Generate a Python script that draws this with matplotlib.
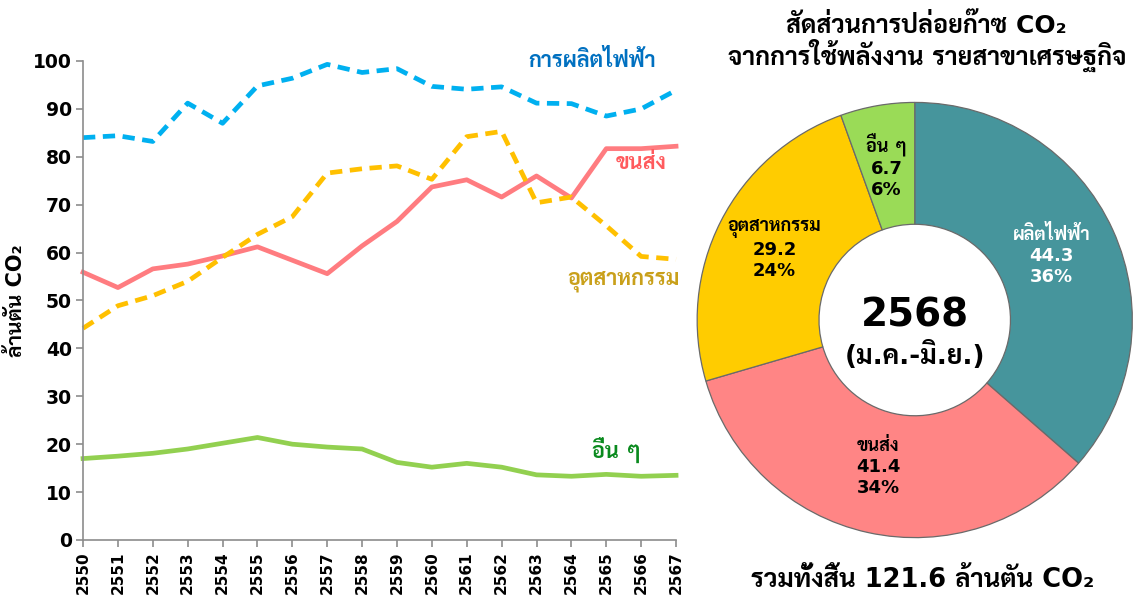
import matplotlib
matplotlib.use("Agg")
import matplotlib.pyplot as plt
from matplotlib import font_manager as fm

# Thai-capable family that has a bold face; Latin/digits stay in DejaVu Sans
bold_names = {f.name for f in fm.fontManager.ttflist
              if (f.weight if isinstance(f.weight, int) else 400) >= 700 or f.weight == "bold"}
THAI = next((n for n in ["Noto Sans Thai Looped", "Noto Sans Thai", "Sarabun", "Loma"]
             if n in bold_names), "DejaVu Sans")
FAM = ["DejaVu Sans", THAI]
plt.rcParams["font.family"] = FAM
plt.rcParams["font.weight"] = "bold"

# ---------------------------------------------------------------- data
years = list(range(2550, 2568))
power = [84.0, 84.4, 83.2, 91.2, 87.0, 94.8, 96.4, 99.3, 97.6, 98.4,
         94.7, 94.1, 94.6, 91.2, 91.1, 88.5, 90.0, 93.9]
transport = [55.9, 52.7, 56.6, 57.6, 59.3, 61.2, 58.4, 55.6, 61.4, 66.5,
             73.7, 75.2, 71.6, 76.0, 71.4, 81.7, 81.7, 82.2]
industry = [44.2, 48.9, 51.0, 54.0, 59.0, 63.8, 67.5, 76.6, 77.5, 78.1,
            75.3, 84.2, 85.3, 70.4, 71.6, 65.6, 59.2, 58.6]
others = [17.0, 17.5, 18.1, 19.0, 20.2, 21.4, 20.0, 19.4, 19.0, 16.2,
          15.2, 16.0, 15.2, 13.6, 13.3, 13.7, 13.3, 13.5]

pie_names = ["ผลิตไฟฟ้า", "ขนส่ง", "อุตสาหกรรม", "อื่น ๆ"]
pie_vals = [44.3, 41.4, 29.2, 6.7]
pie_pct = ["36%", "34%", "24%", "6%"]
total = 121.6

# ---------------------------------------------------------------- style
C_POWER, C_TRANS, C_IND, C_OTH = "#00B0F0", "#FF7C80", "#FFC000", "#92D050"
PIE_COLORS = ["#46959C", "#FF8585", "#FFCC00", "#9ADB57"]
GREY = "#8c8c8c"

fig = plt.figure(figsize=(11.47, 5.98), dpi=100)

# ---------------------------------------------------------------- line chart
ax = fig.add_axes([0.0724, 0.097, 0.517, 0.801])
lw = 3.4
ax.plot(years, power, color=C_POWER, lw=lw, dashes=(2.6, 1.6), clip_on=False)
ax.plot(years, transport, color=C_TRANS, lw=lw, clip_on=False)
ax.plot(years, industry, color=C_IND, lw=lw, dashes=(2.6, 1.6), clip_on=False)
ax.plot(years, others, color=C_OTH, lw=lw, clip_on=False)

ax.set_xlim(years[0], years[-1])
ax.set_ylim(0, 100)
ax.set_yticks(range(0, 101, 10))
ax.set_xticks(years)
ax.set_xticklabels([str(y) for y in years], rotation=90, fontsize=11, fontweight="bold")
for t in ax.get_yticklabels():
    t.set_fontsize(13.5)
    t.set_fontweight("bold")
for s in ("top", "right"):
    ax.spines[s].set_visible(False)
for s in ("left", "bottom"):
    ax.spines[s].set_color(GREY)
    ax.spines[s].set_linewidth(1.2)
ax.tick_params(axis="both", direction="out", length=5, width=1.2, color=GREY, pad=3)
ax.set_ylabel("ล้านตัน CO₂", fontsize=15, fontweight="bold", labelpad=5)

ax.text(2564.6, 100.3, "การผลิตไฟฟ้า", color="#0070C0", fontsize=15.5, ha="center",
        va="center", fontweight="bold", clip_on=False)
ax.text(2566.0, 78.8, "ขนส่ง", color="#FF5B5E", fontsize=15.5, ha="center",
        va="center", fontweight="bold")
ax.text(2565.5, 54.0, "อุตสาหกรรม", color="#C9A01A", fontsize=15.5, ha="center",
        va="center", fontweight="bold", clip_on=False)
ax.text(2565.3, 18.6, "อื่น ๆ", color="#0A8A1E", fontsize=15.5, ha="center",
        va="center", fontweight="bold")

# ---------------------------------------------------------------- donut
pax = fig.add_axes([0.604, 0.0936, 0.387, 0.7425])
pax.pie(pie_vals, colors=PIE_COLORS, startangle=90, counterclock=False, radius=1.0,
        wedgeprops=dict(width=0.56, edgecolor="#6a6a6a", linewidth=0.9))
pax.set_xlim(-1.02, 1.02)
pax.set_ylim(-1.02, 1.02)
pax.set_aspect("equal")
pax.axis("off")

label_pos = [(0.63, 0.295), (-0.167, -0.676), (-0.644, 0.324), (-0.13, 0.705)]
label_col = ["white", "black", "black", "black"]
for name, v, p, (lx, ly), c in zip(pie_names, pie_vals, pie_pct, label_pos, label_col):
    pax.text(lx, ly, f"{name}\n{v:.1f}\n{p}", ha="center", va="center", fontsize=13,
             fontweight="bold", color=c, linespacing=1.22)

pax.text(0, 0.02, "2568", ha="center", va="center", fontsize=28, fontweight="bold")
pax.text(0, -0.165, "(ม.ค.-มิ.ย.)", ha="center", va="center", fontsize=19, fontweight="bold")

# ---------------------------------------------------------------- titles
fig.text(0.808, 0.958, "สัดส่วนการปล่อยก๊าซ CO₂", ha="center", va="center",
         fontsize=18, fontweight="bold")
fig.text(0.808, 0.908, "จากการใช้พลังงาน รายสาขาเศรษฐกิจ", ha="center", va="center",
         fontsize=18, fontweight="bold")
fig.text(0.804, 0.030, f"รวมทั้งสิ้น {total:.1f} ล้านตัน CO₂", ha="center",
         va="center", fontsize=18.5, fontweight="bold")

fig.savefig("out.png", dpi=100)
